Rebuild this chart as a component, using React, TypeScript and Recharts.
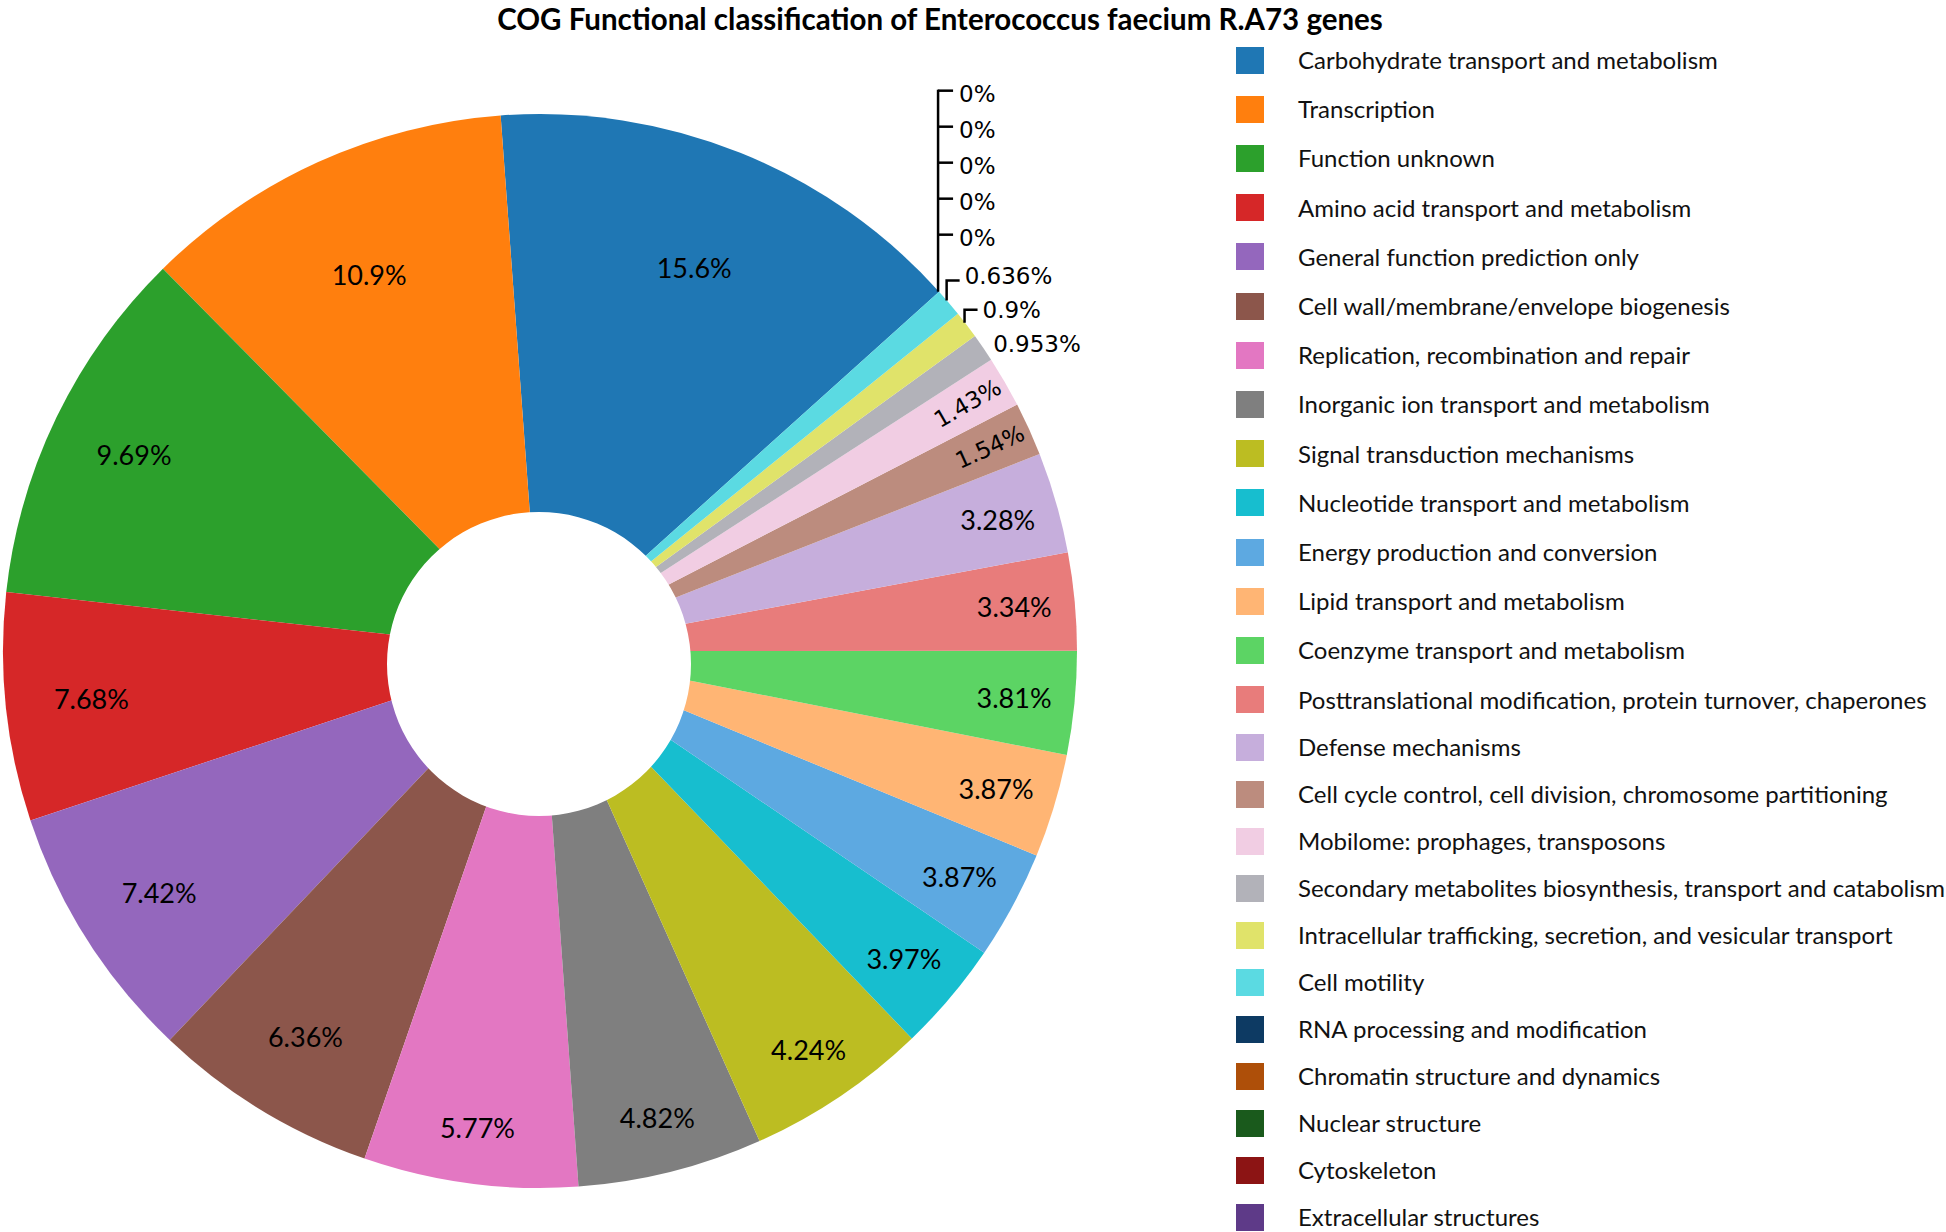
import React from 'react';
import { PieChart, Pie, Cell, Legend } from 'recharts';

const categories = [
  'Carbohydrate transport and metabolism',
  'Transcription',
  'Function unknown',
  'Amino acid transport and metabolism',
  'General function prediction only',
  'Cell wall/membrane/envelope biogenesis',
  'Replication, recombination and repair',
  'Inorganic ion transport and metabolism',
  'Signal transduction mechanisms',
  'Nucleotide transport and metabolism',
  'Energy production and conversion',
  'Lipid transport and metabolism',
  'Coenzyme transport and metabolism',
  'Posttranslational modification, protein turnover, chaperones',
  'Defense mechanisms',
  'Cell cycle control, cell division, chromosome partitioning',
  'Mobilome: prophages, transposons',
  'Secondary metabolites biosynthesis, transport and catabolism',
  'Intracellular trafficking, secretion, and vesicular transport',
  'Cell motility',
  'RNA processing and modification',
  'Chromatin structure and dynamics',
  'Nuclear structure',
  'Cytoskeleton',
  'Extracellular structures',
];

// Percentages printed on the chart
const percents = [
  15.6, 10.9, 9.69, 7.68, 7.42, 6.36, 5.77, 4.82, 4.24, 3.97, 3.87, 3.87, 3.81,
  3.34, 3.28, 1.54, 1.43, 0.953, 0.9, 0.636, 0, 0, 0, 0, 0,
];

// Share of the circle each wedge occupies in the picture (%)
const wedgeShares = [
  14.5, 11.22, 10.86, 6.86, 7.78, 6.81, 6.44, 5.56, 5.47, 3.33, 3.28, 3.11, 3.11,
  2.94, 3.03, 1.61, 1.54, 0.85, 0.83, 0.86, 0, 0, 0, 0, 0,
];

const pctLabels = [
  '15.6%', '10.9%', '9.69%', '7.68%', '7.42%', '6.36%', '5.77%', '4.82%', '4.24%',
  '3.97%', '3.87%', '3.87%', '3.81%', '3.34%', '3.28%', '1.54%', '1.43%', '0.953%',
  '0.9%', '0.636%', '0%', '0%', '0%', '0%', '0%',
];

const colors = [
  '#1f77b4', '#ff7f0e', '#2ca02c', '#d62728', '#9467bd', '#8c564b', '#e377c2',
  '#7f7f7f', '#bcbd22', '#17becf', '#5da9e1', '#ffb574', '#5cd464', '#e87c7b',
  '#c6aedc', '#bc8c7e', '#f1cde3', '#b2b2b9', '#e0e36a', '#5bdae2', '#0d3a63',
  '#ae4f09', '#1a5a1c', '#8c1414', '#5e3a88',
];

const TITLE = 'COG Functional classification of Enterococcus faecium R.A73 genes';

const data = categories.map((c, i) => ({ name: c, value: wedgeShares[i], pct: percents[i] }));
const holeData = [{ name: 'hole', value: 1 }];

const RAD = Math.PI / 180;
const BIG_FONT = 'Lato, "Open Sans", sans-serif';
const SMALL_FONT = '"DejaVu Sans", sans-serif';

function renderLabel(props: any) {
  const { cx, cy, midAngle, outerRadius, index } = props;
  const pct = percents[index];
  const text = pctLabels[index];
  const px = (r: number, a: number) => cx + r * Math.cos(-a * RAD);
  const py = (r: number, a: number) => cy + r * Math.sin(-a * RAD);

  if (pct >= 2) {
    const frac = pct >= 10 ? 0.77 : pct >= 6 ? 0.84 : pct >= 4 ? 0.895 : 0.887;
    const r = outerRadius * frac;
    return (
      <text key={`l${index}`} x={px(r, midAngle)} y={py(r, midAngle)} textAnchor="middle"
        dominantBaseline="central" fontFamily={BIG_FONT} fontSize={27} fill="#000">
        {text}
      </text>
    );
  }
  if (pct >= 1.2) {
    const r = outerRadius * 0.92;
    const x = px(r, midAngle);
    const y = py(r, midAngle);
    return (
      <text key={`l${index}`} x={x} y={y} textAnchor="middle" dominantBaseline="central"
        fontFamily={SMALL_FONT} fontSize={23} fill="#000"
        transform={`rotate(${-midAngle} ${x} ${y})`}>
        {text}
      </text>
    );
  }
  const ex = px(outerRadius, midAngle);
  const ey = py(outerRadius, midAngle);
  if (pct >= 0.95) {
    return (
      <text key={`l${index}`} x={ex + 10} y={ey - 4} textAnchor="start" dominantBaseline="central"
        fontFamily={SMALL_FONT} fontSize={23} fill="#000">
        {text}
      </text>
    );
  }
  if (pct > 0) {
    const h = pct >= 0.8 ? 15 : 22;
    const dy = pct >= 0.8 ? 0 : -5;
    return (
      <g key={`l${index}`}>
        <path d={`M${ex - 2},${ey - 2} L${ex - 2},${ey - h} L${ex + 11},${ey - h}`}
          stroke="#000" strokeWidth={2.5} fill="none" />
        <text x={ex + 16} y={ey - h + dy} textAnchor="start" dominantBaseline="central"
          fontFamily={SMALL_FONT} fontSize={23} fill="#000">
          {text}
        </text>
      </g>
    );
  }
  // zero-value categories: stacked labels on a vertical leader
  const k = index - 20;
  const tickY = ey - 57 - 36 * k;
  const lx = ex - 1;
  return (
    <g key={`l${index}`}>
      {k === 0 && (
        <path d={`M${lx},${ey} L${lx},${ey - 57 - 36 * 4 - 1}`} stroke="#000" strokeWidth={2.5} fill="none" />
      )}
      <path d={`M${lx},${tickY} L${lx + 15},${tickY}`} stroke="#000" strokeWidth={2.5} fill="none" />
      <text x={lx + 21} y={tickY + 3} textAnchor="start" dominantBaseline="central"
        fontFamily={SMALL_FONT} fontSize={23} fill="#000">
        {text}
      </text>
    </g>
  );
}

function legendRowY(i: number) {
  return i <= 13 ? 60 + 49.2 * i : 700 + 47 * (i - 13);
}

function LegendContent() {
  const rowH = 44;
  return (
    <div style={{ position: 'relative', width: 710, height: 1232 }}>
      {categories.map((n, i) => (
        <div key={n} style={{
          position: 'absolute', left: 0, top: legendRowY(i) - rowH / 2, height: rowH,
          display: 'flex', alignItems: 'center', whiteSpace: 'nowrap',
        }}>
          <div style={{ width: 28, height: 27, background: colors[i], flex: 'none' }} />
          <span style={{
            marginLeft: 34, fontFamily: BIG_FONT, fontSize: 24, color: '#111', lineHeight: 1,
          }}>{n}</span>
        </div>
      ))}
    </div>
  );
}

export default function App() {
  return (
    <div style={{ position: 'absolute', left: 0, top: 0, width: 1946, height: 1232, background: '#fff', overflow: 'hidden' }}>
      <PieChart width={1946} height={1232} margin={{ top: 0, right: 0, bottom: 0, left: 0 }}>
        <Pie data={data} dataKey="value" nameKey="name" cx={540} cy={651} innerRadius={0}
          outerRadius={537} startAngle={42} endAngle={402} stroke="none" isAnimationActive={false}
          labelLine={false} label={renderLabel}>
          {data.map((d, i) => (
            <Cell key={d.name} fill={colors[i]} stroke="none" />
          ))}
        </Pie>
        <Pie data={holeData} dataKey="value" cx={539} cy={664} innerRadius={0} outerRadius={152}
          stroke="none" fill="#ffffff" isAnimationActive={false} legendType="none" />
        <Legend content={() => <LegendContent />} layout="vertical" align="right" verticalAlign="top"
          wrapperStyle={{ position: 'absolute', left: 1236, top: 0, width: 710, height: 1232 }} />
      </PieChart>
      <div style={{
        position: 'absolute', left: 0, top: 0, width: 1880, textAlign: 'center',
        fontFamily: BIG_FONT, fontWeight: 700, fontSize: 29.5, color: '#000', lineHeight: '38px',
      }}>
        {TITLE}
      </div>
    </div>
  );
}
